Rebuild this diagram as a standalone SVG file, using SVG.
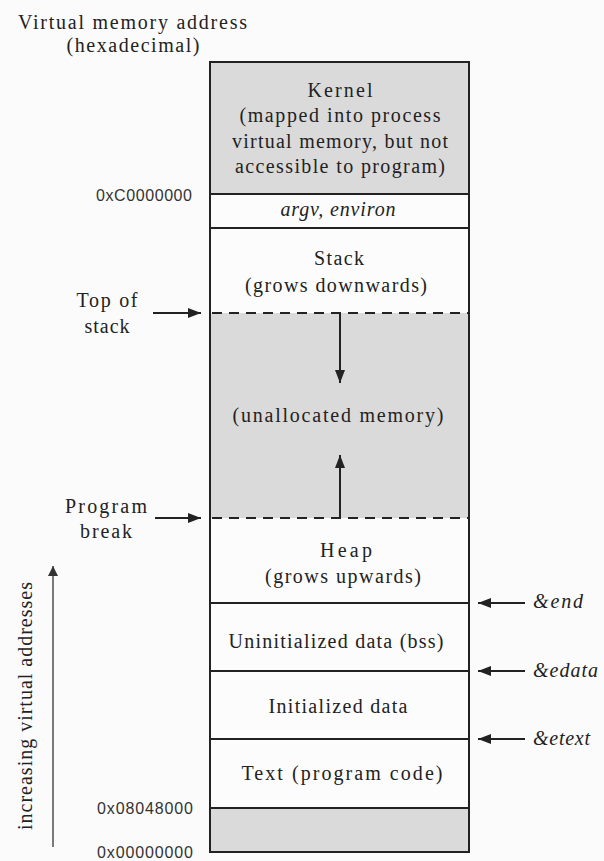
<svg xmlns="http://www.w3.org/2000/svg" width="604" height="861" viewBox="0 0 604 861" font-family="Liberation Serif, DejaVu Serif, Noto Serif, serif">
  <style>
    .lbl { font-size: 20px; fill: #222; }
    .mid { text-anchor: middle; }
    .it { font-style: italic; }
    .addr { font-family: "Liberation Sans", "DejaVu Sans", Arial, sans-serif; font-size: 16px; fill: #333; text-anchor: end; }
    .seg { stroke: #222; stroke-width: 2; }
    .gray { fill: #dadada; }
    .white { fill: #fcfcfc; }
    .dash { stroke: #222; stroke-width: 2; stroke-dasharray: 10 7; fill: none; }
    .conn { stroke: #222; stroke-width: 2; fill: none; }
    .thin { stroke: #333; stroke-width: 1.3; fill: none; }
  </style>
  <defs>
    <marker id="head" viewBox="0 0 13 10" refX="13" refY="5" markerWidth="13" markerHeight="10" markerUnits="userSpaceOnUse" orient="auto">
      <path d="M0,0 L13,5 L0,10 Z" fill="#222"/>
    </marker>
    <marker id="headThin" viewBox="0 0 10 14" refX="10" refY="7" markerWidth="10" markerHeight="14" markerUnits="userSpaceOnUse" orient="auto">
      <path d="M0,2 L10,7 L0,12 Z" fill="#333"/>
    </marker>
  </defs>

  <rect x="0" y="0" width="604" height="861" fill="#fbfbfb"/>

  <!-- axis titles -->
  <g id="title">
    <text class="lbl" x="18" y="29" textLength="229" lengthAdjust="spacing">Virtual memory address</text>
    <text class="lbl mid" x="133" y="52" textLength="133" lengthAdjust="spacing">(hexadecimal)</text>
  </g>

  <!-- memory segments, top (high addresses) to bottom -->
  <g id="kernel">
    <rect class="seg gray" x="210" y="62" width="259" height="132"/>
    <text class="lbl mid" x="340" y="97" textLength="65" lengthAdjust="spacing">Kernel</text>
    <text class="lbl mid" x="340" y="122" textLength="201" lengthAdjust="spacing">(mapped into process</text>
    <text class="lbl mid" x="340" y="148" textLength="216" lengthAdjust="spacing">virtual memory, but not</text>
    <text class="lbl mid" x="340" y="173" textLength="210" lengthAdjust="spacing">accessible to program)</text>
  </g>
  <g id="argv">
    <rect class="seg white" x="210" y="194" width="259" height="34"/>
    <text class="lbl it mid" x="338" y="216" textLength="115" lengthAdjust="spacing">argv, environ</text>
  </g>
  <g id="stack">
    <rect class="white" x="210" y="228" width="259" height="85"/>
    <text class="lbl mid" x="339" y="265" textLength="50" lengthAdjust="spacing">Stack</text>
    <text class="lbl mid" x="336" y="292" textLength="182" lengthAdjust="spacing">(grows downwards)</text>
  </g>
  <g id="unallocated">
    <rect class="gray" x="210" y="313" width="259" height="205"/>
    <text class="lbl mid" x="338" y="422" textLength="211" lengthAdjust="spacing">(unallocated memory)</text>
  </g>
  <g id="heap">
    <rect class="white" x="210" y="518" width="259" height="85"/>
    <text class="lbl mid" x="346" y="557" textLength="52" lengthAdjust="spacing">Heap</text>
    <text class="lbl mid" x="343" y="583" textLength="156" lengthAdjust="spacing">(grows upwards)</text>
  </g>
  <g id="bss">
    <rect class="seg white" x="210" y="603" width="259" height="68"/>
    <text class="lbl mid" x="336" y="648" textLength="215" lengthAdjust="spacing">Uninitialized data (bss)</text>
  </g>
  <g id="data">
    <rect class="seg white" x="210" y="671" width="259" height="68"/>
    <text class="lbl mid" x="338" y="713" textLength="139" lengthAdjust="spacing">Initialized data</text>
  </g>
  <g id="text-seg">
    <rect class="seg white" x="210" y="739" width="259" height="69"/>
    <text class="lbl mid" x="342" y="780" textLength="201" lengthAdjust="spacing">Text (program code)</text>
  </g>
  <g id="low-unmapped">
    <rect class="seg gray" x="210" y="808" width="259" height="44"/>
  </g>

  <!-- outer frame and boundaries of the stack/heap region -->
  <g id="frame">
    <line class="seg" x1="210" y1="228" x2="210" y2="603"/>
    <line class="seg" x1="469" y1="228" x2="469" y2="603"/>
    <line class="seg" x1="210" y1="228" x2="469" y2="228"/>
    <line class="dash" x1="212" y1="313" x2="468" y2="313"/>
    <line class="dash" x1="212" y1="518" x2="468" y2="518"/>
  </g>

  <!-- address labels -->
  <g id="addresses">
    <text class="addr" x="192" y="201" textLength="96" lengthAdjust="spacing">0xC0000000</text>
    <text class="addr" x="193" y="814" textLength="96" lengthAdjust="spacing">0x08048000</text>
    <text class="addr" x="193" y="858" textLength="96" lengthAdjust="spacing">0x00000000</text>
  </g>

  <!-- side labels -->
  <g id="top-of-stack">
    <text class="lbl mid" x="107" y="307" textLength="61" lengthAdjust="spacing">Top of</text>
    <text class="lbl mid" x="107" y="333" textLength="45" lengthAdjust="spacing">stack</text>
  </g>
  <g id="program-break">
    <text class="lbl mid" x="106" y="513" textLength="82" lengthAdjust="spacing">Program</text>
    <text class="lbl mid" x="106" y="538" textLength="52" lengthAdjust="spacing">break</text>
  </g>
  <g id="symbols">
    <text class="lbl it" x="533" y="608" textLength="50" lengthAdjust="spacing">&amp;end</text>
    <text class="lbl it" x="533" y="677" textLength="65" lengthAdjust="spacing">&amp;edata</text>
    <text class="lbl it" x="533" y="745" textLength="57" lengthAdjust="spacing">&amp;etext</text>
  </g>
  <g id="direction">
    <text class="lbl mid" transform="translate(32,706) rotate(-90)" x="0" y="0" textLength="248" lengthAdjust="spacing">increasing virtual addresses</text>
  </g>

  <!-- connectors -->
  <g id="connectors">
    <line class="conn" x1="153" y1="313" x2="201" y2="313" marker-end="url(#head)"/>
    <line class="conn" x1="155" y1="518" x2="201" y2="518" marker-end="url(#head)"/>
    <line class="conn" x1="340" y1="314" x2="340" y2="383" marker-end="url(#head)"/>
    <line class="conn" x1="340" y1="517" x2="340" y2="455" marker-end="url(#head)"/>
    <line class="conn" x1="525" y1="603" x2="478" y2="603" marker-end="url(#head)"/>
    <line class="conn" x1="525" y1="671" x2="478" y2="671" marker-end="url(#head)"/>
    <line class="conn" x1="525" y1="739" x2="478" y2="739" marker-end="url(#head)"/>
    <line class="thin" x1="53" y1="847" x2="53" y2="566" marker-end="url(#headThin)"/>
  </g>
</svg>
